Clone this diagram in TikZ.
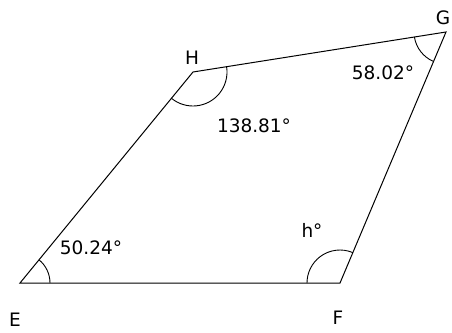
\documentclass[tikz,border=0pt]{standalone}
\usepackage{fontspec}
\setmainfont{DejaVu Sans}
\usetikzlibrary{angles, calc}

\begin{document}
\begin{tikzpicture}[x=1pt, y=-1pt, line width=1pt,
    every node/.style={font=\fontsize{18.5}{22}\selectfont, inner sep=0pt},
    mark arc/.style={draw, line width=0.9pt, angle radius=32pt}]
\useasboundingbox (0,0) rectangle (452,332);
\coordinate (E) at (20,283);
\coordinate (F) at (340,283);
\coordinate (G) at (446,32);
\coordinate (H) at (193,72);

\draw (E) -- (F) -- (G) -- (H) -- cycle;

\pic[mark arc, angle radius=30pt] {angle = F--E--H};
\pic[mark arc, angle radius=33pt] {angle = G--F--E};
\pic[mark arc] {angle = H--G--F};
\pic[mark arc, angle radius=34pt] {angle = E--H--G};

% vertex names
\node (lE) at (15,320) {E};
\node (lF) at (338,318) {F};
\node (lG) at (443,18) {G};
\node (lH) at (192,58) {H};

% angle values
\node (aE) at (91,248) {50.24°};
\node (aF) at (312,230) {h°};
\node (aG) at (383,73) {58.02°};
\node (aH) at (254,126) {138.81°};
\end{tikzpicture}
\end{document}
